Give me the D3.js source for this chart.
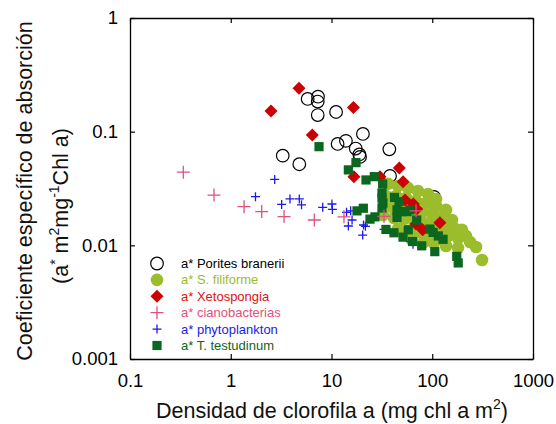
<!DOCTYPE html>
<html>
<head>
  <meta charset="utf-8">
  <script src="https://d3js.org/d3.v7.min.js"></script>
  <style>
    body { margin: 0; background: #fff; }
    text { font-family: "Liberation Sans", Arial, sans-serif; }
  </style>
</head>
<body>
<script>
// data: [chl density, a*]
var porites = [[5.8,0.194],[7.35,0.203],[7.3,0.184],[7.3,0.140],[11.1,0.149],[20.5,0.0955],[11.5,0.078],
  [13.9,0.083],[17.4,0.071],[18.9,0.063],[19.2,0.060],[37.5,0.070],[3.28,0.0615],[4.79,0.0517],
  [38.1,0.0408],[104,0.0267]];

var filiforme = [[36.4,0.0347],[45.7,0.0333],[57.4,0.0320],[72.2,0.0301],[90.7,0.0283],[109,0.0256],
  [34.8,0.0272],[43.7,0.0272],[54.9,0.0261],[69.0,0.0246],[86.7,0.0236],[109,0.0222],[137,0.0205],
  [39.9,0.0218],[50.1,0.0213],[63.0,0.0205],[79.1,0.0197],[99.4,0.0189],[125,0.0178],[157,0.0167],
  [32.4,0.0185],[41.7,0.0174],[52.4,0.0171],[65.9,0.0164],[82.8,0.0157],[104,0.0154],[131,0.0148],
  [164,0.0142],[197,0.0137],[45.7,0.0139],[57.4,0.0134],[72.2,0.0131],[90.7,0.0129],[114,0.0126],
  [143,0.0121],[180,0.0116],[216,0.0121],[63.0,0.0112],[82.8,0.0107],[104,0.0105],[137,0.00988],
  [180,0.00949],[237,0.0107],[272,0.00968],[312,0.00744]];

var xetospongia = [[2.51,0.152],[4.76,0.241],[16.5,0.163],[6.45,0.0935],[16.7,0.0402],[47.1,0.048],
  [51.3,0.0363],[30.3,0.0402],[53.7,0.0251],[64.9,0.0231],[70.1,0.0209],[119,0.0158],[80.4,0.0137],
  [69,0.0154]];

var cianobacterias = [[0.338,0.0440],[0.682,0.0277],[1.355,0.0219],[2.03,0.0198],[3.38,0.0179],
  [6.75,0.0167],[13.3,0.0178],[33.2,0.0180],[69,0.0201]];

var phytoplankton = [[2.73,0.0380],[1.76,0.0268],[3.20,0.0229],[3.87,0.0256],[4.79,0.0256],[5.04,0.0227],
  [8.18,0.0216],[10.1,0.0231],[10.2,0.0207],[14.1,0.0195],[15.5,0.0201],[16.0,0.0167],[14.7,0.0148],
  [20.8,0.0151],[21.7,0.0147],[20.4,0.0123],[33.2,0.0138],[60.8,0.0108],[64.4,0.0102]];

var testudinum = [[7.52,0.0738],[17.5,0.0534],[14.7,0.0461],[22.0,0.0376],[26.6,0.0402],[32.2,0.0347],
  [31.7,0.0289],[31.7,0.0261],[32.4,0.0236],[31.7,0.0213],[17.9,0.0201],[20.7,0.0212],[24.1,0.0170],
  [27.0,0.0178],[34.7,0.0138],[41.7,0.0129],[42.2,0.0264],[46.8,0.0242],[44.7,0.0205],[44.7,0.0176],
  [50.1,0.0198],[56.1,0.0198],[60.1,0.0205],[57.8,0.0137],[51.3,0.0118],[70.1,0.0167],[63.7,0.0108],
  [78.6,0.0099],[95,0.0139],[102,0.0130],[115,0.0121],[128,0.0113],[106,0.0088],[175,0.0080],[181,0.0070]];

var xTicks = [0.1, 1, 10, 100, 1000];
var yTicks = [0.001, 0.01, 0.1, 1];

var width = 556, height = 424;
var margin = { top: 18, right: 23, bottom: 65, left: 130 };

var x = d3.scaleLog().domain([0.1, 1000]).range([margin.left, width - margin.right]);
var y = d3.scaleLog().domain([0.001, 1]).range([height - margin.bottom, margin.top]);

var svg = d3.select("body").append("svg")
    .attr("width", width)
    .attr("height", height);

// series styles
var series = [
  { name: "a* Porites branerii", data: porites, kind: "ocircle", color: "#000", text: "#000" },
  { name: "a* S. filiforme", data: filiforme, kind: "circle", color: "#9bbd2c", text: "#9bbd2c" },
  { name: "a* Xetospongia", data: xetospongia, kind: "diamond", color: "#cc0000", text: "#dd1111" },
  { name: "a* cianobacterias", data: cianobacterias, kind: "bigplus", color: "#e0507c", text: "#e0507c" },
  { name: "a* phytoplankton", data: phytoplankton, kind: "plus", color: "#1a1ae6", text: "#1a1ae6" },
  { name: "a* T. testudinum", data: testudinum, kind: "square", color: "#0b6620", text: "#0b6620" }
];

function drawSymbol(g, kind, color) {
  if (kind === "ocircle") {
    g.append("circle").attr("r", 6.3).attr("fill", "none").attr("stroke", color).attr("stroke-width", 1.2);
  } else if (kind === "circle") {
    g.append("circle").attr("r", 6.3).attr("fill", color);
  } else if (kind === "diamond") {
    g.append("path").attr("d", "M0,-6.5L6.5,0L0,6.5L-6.5,0Z").attr("fill", color);
  } else if (kind === "square") {
    g.append("rect").attr("x", -4.6).attr("y", -4.6).attr("width", 9.2).attr("height", 9.2).attr("fill", color);
  } else if (kind === "bigplus") {
    g.append("path").attr("d", "M-6.5,0H6.5M0,-6.5V6.5").attr("stroke", color).attr("stroke-width", 1.3);
  } else if (kind === "plus") {
    g.append("path").attr("d", "M-4.5,0H4.5M0,-4.5V4.5").attr("stroke", color).attr("stroke-width", 1.3);
  }
}

// draw order
var order = [0, 1, 2, 4, 5, 3];
order.forEach(function(i) {
  var s = series[i];
  svg.append("g").selectAll("g")
    .data(s.data)
    .join("g")
      .attr("transform", function(d) { return "translate(" + x(d[0]) + "," + y(d[1]) + ")"; })
      .each(function() { drawSymbol(d3.select(this), s.kind, s.color); });
});

// axes
var fmt = d3.format("~g");

svg.append("g")
    .attr("transform", "translate(0," + (height - margin.bottom) + ")")
    .call(d3.axisBottom(x).tickValues(xTicks).tickFormat(fmt).tickSize(-5).tickSizeOuter(0).tickPadding(15));
svg.append("g")
    .attr("transform", "translate(" + margin.left + ",0)")
    .call(d3.axisLeft(y).tickValues(yTicks).tickFormat(fmt).tickSize(-5).tickSizeOuter(0).tickPadding(12));
svg.append("g")
    .attr("transform", "translate(0," + margin.top + ")")
    .call(d3.axisTop(x).tickValues(xTicks).tickFormat("").tickSize(-5).tickSizeOuter(0));
svg.append("g")
    .attr("transform", "translate(" + (width - margin.right) + ",0)")
    .call(d3.axisRight(y).tickValues(yTicks).tickFormat("").tickSize(-5).tickSizeOuter(0));

svg.selectAll(".domain").attr("stroke", "#000").attr("stroke-width", 1.3);
svg.selectAll(".tick line").attr("stroke", "#000").attr("stroke-width", 1.2);
svg.selectAll(".tick text").attr("font-size", 18.5).attr("fill", "#000")
    .attr("font-family", "Liberation Sans, Arial, sans-serif");

// legend
var legend = svg.append("g");
series.forEach(function(s, i) {
  var ly = 263.5 + i * 16.4;
  var g = legend.append("g").attr("transform", "translate(157," + ly + ")");
  drawSymbol(g, s.kind, s.color);
  legend.append("text")
    .attr("x", 181).attr("y", ly + 4.5)
    .attr("font-size", 13)
    .attr("fill", s.text)
    .text(s.name);
});

// x title
var xt = svg.append("text")
    .attr("x", 332)
    .attr("y", 418)
    .attr("text-anchor", "middle")
    .attr("font-size", 21.5)
    .attr("fill", "#111");
xt.append("tspan").text("Densidad de clorofila a (mg chl a m");
xt.append("tspan").attr("font-size", 14).attr("dy", -9).text("2");
xt.append("tspan").attr("dy", 9).text(")");

// y title
var yt = svg.append("g").attr("transform", "translate(0,191) rotate(-90)");
yt.append("text")
    .attr("x", 0).attr("y", 32)
    .attr("text-anchor", "middle")
    .attr("font-size", 21.5)
    .attr("fill", "#111")
    .text("Coeficiente específico de absorción");
var yt2 = yt.append("text")
    .attr("x", 0).attr("y", 68)
    .attr("font-size", 21.5)
    .attr("fill", "#111");
yt2.append("tspan").text("(a");
yt2.append("tspan").attr("font-size", 14).attr("dy", -8).text("*");
yt2.append("tspan").attr("dy", 8).text(" m");
yt2.append("tspan").attr("font-size", 14).attr("dy", -9).text("2");
yt2.append("tspan").attr("dy", 9).text("mg");
yt2.append("tspan").attr("font-size", 14).attr("dy", -9).text("-1");
yt2.append("tspan").attr("dy", 9).text("Chl a)");
// centre line 2 on page y = 206
var bb = yt2.node().getBBox();
yt2.attr("x", -15 - (bb.x + bb.width / 2));
</script>
</body>
</html>
